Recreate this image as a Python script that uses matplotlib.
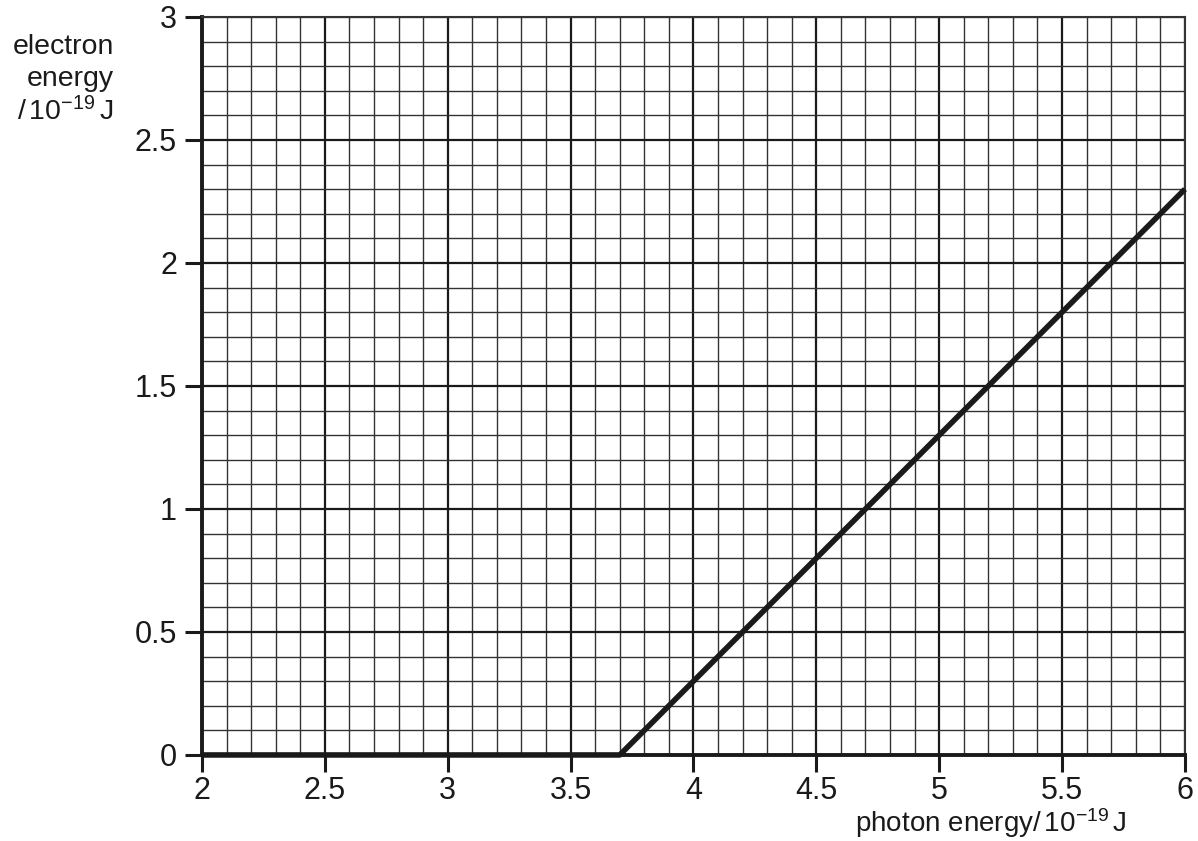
import matplotlib.pyplot as plt
import numpy as np

plt.rcParams['font.family'] = ['Liberation Sans', 'DejaVu Sans']
plt.rcParams['mathtext.fontset'] = 'custom'
plt.rcParams['mathtext.rm'] = 'Liberation Sans'
plt.rcParams['mathtext.it'] = 'Liberation Sans'

# Data: electron energy vs photon energy (units 10^-19 J)
photon_energy = [2.0, 3.7, 6.0]
electron_energy = [0.0, 0.0, 2.3]

x_ticks = [2, 2.5, 3, 3.5, 4, 4.5, 5, 5.5, 6]
x_tick_labels = ['2', '2.5', '3', '3.5', '4', '4.5', '5', '5.5', '6']
y_ticks = [0, 0.5, 1, 1.5, 2, 2.5, 3]
y_tick_labels = ['0', '0.5', '1', '1.5', '2', '2.5', '3']

fig = plt.figure(figsize=(11.98, 8.41), dpi=100)
ax = fig.add_axes([0.1686, 0.1023, 0.8205, 0.8775])

ax.set_xlim(2, 6)
ax.set_ylim(0, 3)

# graph paper grid
ax.set_xticks(np.arange(2, 6.001, 0.1), minor=True)
ax.set_yticks(np.arange(0, 3.001, 0.1), minor=True)
ax.set_xticks(x_ticks)
ax.set_yticks(y_ticks)
ax.set_xticklabels(x_tick_labels)
ax.set_yticklabels(y_tick_labels)
ax.grid(which='minor', color='#333333', linewidth=1.0)
ax.grid(which='major', color='#1a1a1a', linewidth=1.6)
ax.set_axisbelow(True)

ax.tick_params(which='minor', length=0)
ax.tick_params(which='major', direction='out', length=12, width=2.2,
               color='#1a1a1a', labelsize=22, labelcolor='#1a1a1a')
ax.tick_params(axis='x', pad=3)
ax.tick_params(axis='y', pad=6)

for side in ['top', 'right']:
    ax.spines[side].set_linewidth(1.5)
    ax.spines[side].set_color('#333333')
for side in ['left', 'bottom']:
    ax.spines[side].set_linewidth(2.8)
    ax.spines[side].set_color('#1a1a1a')

ax.plot(photon_energy, electron_energy, color='#1a1a1a', linewidth=4,
        solid_capstyle='butt', clip_on=False, zorder=5)

unit = r'/$\,$10$^{\mathrm{-19}}$$\,$J'
fig.text(0.095, 0.944, 'electron', ha='right', va='center', fontsize=20.5, color='#1a1a1a')
fig.text(0.095, 0.906, 'energy', ha='right', va='center', fontsize=20.5, color='#1a1a1a')
fig.text(0.095, 0.867, unit, ha='right', va='center', fontsize=20.5, color='#1a1a1a')

fig.text(0.94, 0.011, 'photon energy' + unit, ha='right', va='baseline',
         fontsize=20, color='#1a1a1a')

plt.savefig('out.png', dpi=100)
